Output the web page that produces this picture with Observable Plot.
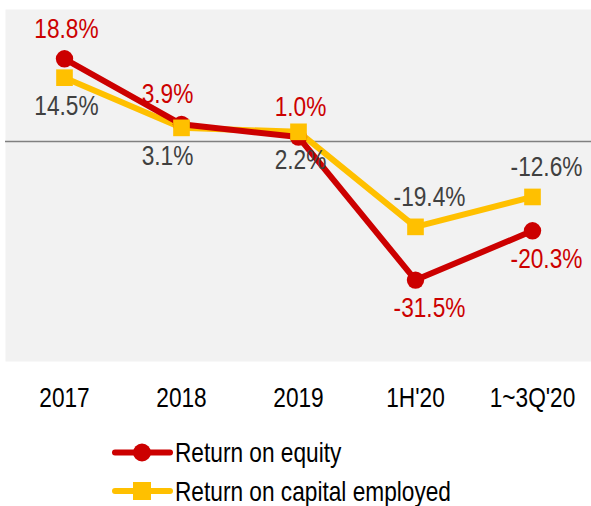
<!DOCTYPE html>
<html>
<head>
<meta charset="utf-8">
<script src="https://cdn.jsdelivr.net/npm/d3@7"></script>
<script src="https://cdn.jsdelivr.net/npm/@observablehq/plot@0.6"></script>
<style>
  body { margin: 0; background: #fff; }
  svg { display: block; }
</style>
</head>
<body>
<div id="chart"></div>
<div id="legend"></div>
<script>
const periods = ["2017", "2018", "2019", "1H'20", "1~3Q'20"];
const roe = [18.8, 3.9, 1.0, -31.5, -20.3];
const roce = [14.5, 3.1, 2.2, -19.4, -12.6];
const roeLabelSide = ["above", "above", "above", "below", "below"];
const roceLabelSide = ["below", "below", "below", "above", "above"];
const seriesNames = ["Return on equity", "Return on capital employed"];
const colors = ["#CC0000", "#FFC000"];

const font = "Liberation Sans, Arial, sans-serif";
const NARROW = 0.81;

const roeData = periods.map((p, i) => ({period: p, value: roe[i], side: roeLabelSide[i]}));
const roceData = periods.map((p, i) => ({period: p, value: roce[i], side: roceLabelSide[i]}));
const fmt = d => d.value.toFixed(1) + "%";
const nudge = (p, v) => v < 0 ? 14 : (p === "2018" ? -14 : 2);

function labels(data, fill) {
  const marks = [];
  for (const side of ["above", "below"]) {
    for (const d of data.filter(d => d.side === side)) {
      marks.push(Plot.text([d], {
        x: "period", y: "value", text: fmt, fill,
        dy: side === "above" ? -30 : 28,
        dx: nudge(d.period, d.value),
        fontSize: 28, fontFamily: font
      }));
    }
  }
  return marks;
}

const chart = Plot.plot({
  width: 591,
  height: 425,
  marginLeft: 5,
  marginRight: 0,
  marginTop: 9,
  marginBottom: 64,
  style: {fontFamily: font, background: "#fff"},
  x: {type: "point", domain: periods, padding: 0.5, label: null},
  y: {domain: [-50, 30], axis: null},
  marks: [
    Plot.frame({fill: "#F2F2F2", stroke: null}),
    Plot.ruleY([0], {stroke: "#808080", strokeWidth: 1.5}),
    Plot.line(roceData, {x: "period", y: "value", stroke: colors[1], strokeWidth: 6}),
    Plot.line(roeData, {x: "period", y: "value", stroke: colors[0], strokeWidth: 6}),
    Plot.dot(roeData, {x: "period", y: "value", symbol: "circle", r: 8.7, fill: colors[0]}),
    Plot.dot(roceData, {x: "period", y: "value", symbol: "square", r: 9.4, fill: colors[1]}),
    ...labels(roeData, colors[0]),
    ...labels(roceData, "#404040"),
    Plot.axisX({tickSize: 0, tickPadding: 26, fontSize: 28, fill: "#000", label: null, fontFamily: font})
  ]
});

function narrowText(root) {
  root.querySelectorAll("text").forEach(t => {
    const tr = t.getAttribute("transform");
    if (tr) {
      t.setAttribute("transform", tr + ` scale(${NARROW},1)`);
    } else {
      const x = +(t.getAttribute("x") || 0);
      t.setAttribute("transform", `translate(${x},0) scale(${NARROW},1) translate(${-x},0)`);
    }
  });
}
narrowText(chart);
document.getElementById("chart").appendChild(chart);

// Legend (below the plot)
const lg = d3.select("#legend").append("svg").attr("width", 591).attr("height", 81)
  .style("font-family", font);
const rowsY = [27.5, 66];
seriesNames.forEach((name, i) => {
  const g = lg.append("g").attr("transform", `translate(0,${rowsY[i]})`);
  g.append("line").attr("x1", 115).attr("x2", 170).attr("y1", 0).attr("y2", 0)
    .attr("stroke", colors[i]).attr("stroke-width", 6).attr("stroke-linecap", "round");
  if (i === 0) g.append("circle").attr("cx", 142).attr("cy", 0).attr("r", 9).attr("fill", colors[i]);
  else g.append("rect").attr("x", 133).attr("y", -9).attr("width", 18).attr("height", 18).attr("fill", colors[i]);
  g.append("text").attr("x", 175).attr("y", 9.5).attr("font-size", 28).attr("fill", "#000").text(name);
});
narrowText(lg.node());
</script>
</body>
</html>
